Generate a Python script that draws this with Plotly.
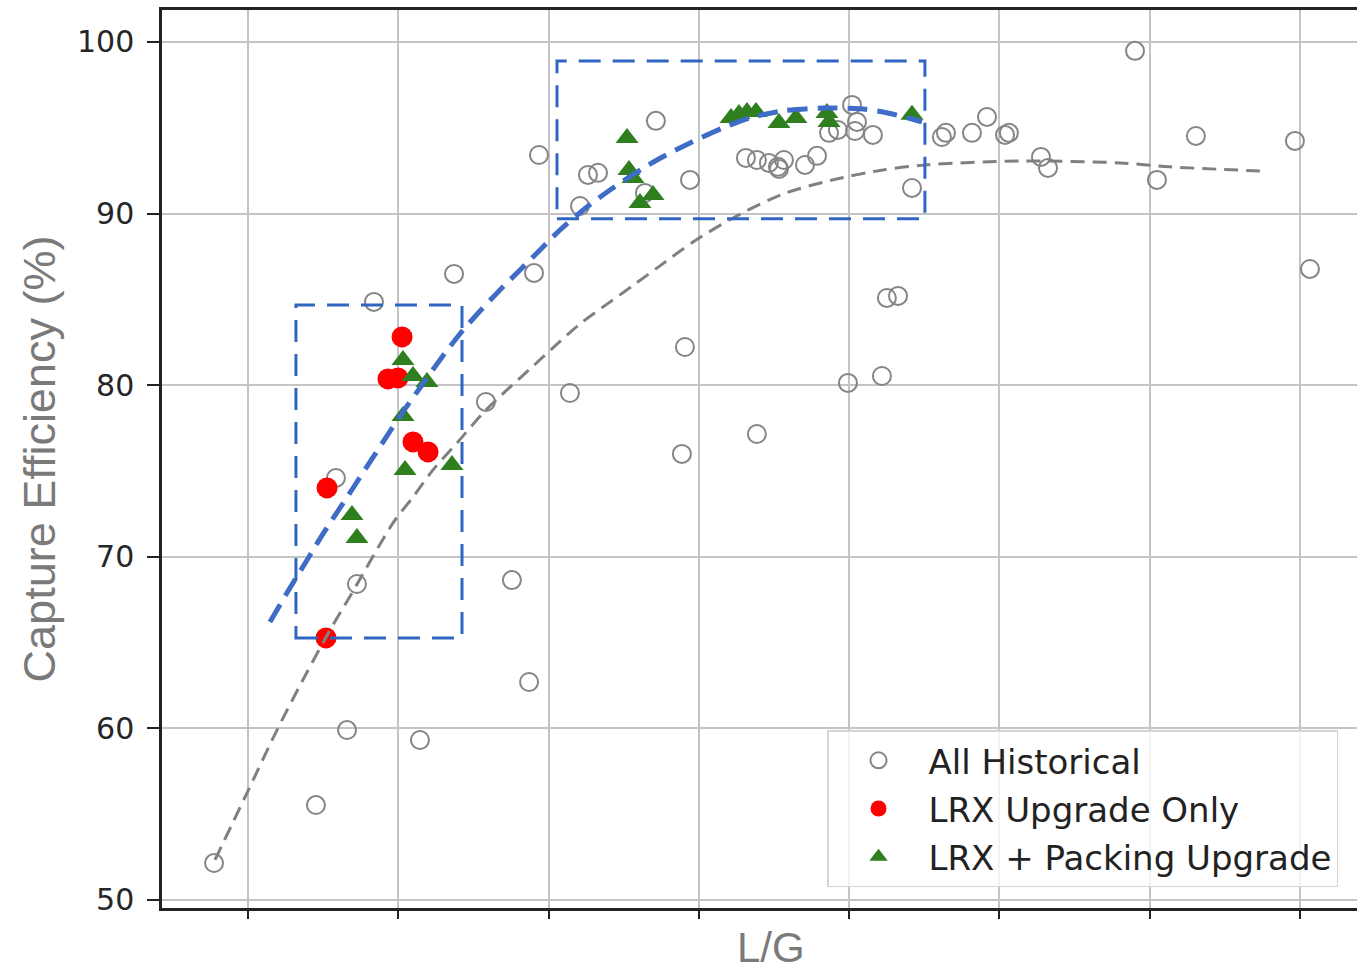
import plotly.graph_objects as go

# ---------------- data ----------------
hist_x = [0.774, 1.452, 1.659, 2.144, 1.725, 1.585, 1.838, 2.371, 2.903, 2.583,
          2.756, 2.870, 3.142, 2.936, 3.209, 3.262, 3.329, 3.714, 3.941, 3.907,
          3.887, 4.386, 4.313, 4.386, 4.466, 4.526, 4.566, 4.533, 4.706, 4.786,
          4.866, 4.925, 5.019, 5.052, 5.039, 5.158, 4.992, 5.218, 5.251, 5.325,
          5.418, 5.617, 5.644, 5.817, 5.917, 6.037, 6.063, 6.276, 6.323, 6.902,
          7.048, 7.307, 7.966, 8.066, 3.641]
hist_y = [52.15, 55.53, 59.90, 59.32, 68.41, 74.59, 84.85, 86.48, 86.54, 79.02,
          68.64, 62.70, 79.54, 93.41, 90.44, 92.25, 92.37, 95.40, 91.96, 82.22,
          75.99, 77.15, 93.24, 93.12, 92.95, 92.72, 93.12, 92.60, 92.83, 93.36,
          94.70, 94.87, 96.33, 95.34, 94.81, 94.58, 80.13, 80.53, 85.08, 85.20,
          91.49, 94.46, 94.70, 94.70, 95.63, 94.58, 94.70, 93.30, 92.66, 99.48,
          91.96, 94.52, 94.23, 86.77, 91.20]

lrx_x = [2.025, 1.931, 1.998, 2.098, 2.198, 1.526, 1.519]
lrx_y = [82.81, 80.36, 80.42, 76.69, 76.11, 74.01, 65.27]

pack_x = [2.031, 2.098, 2.191, 2.031, 2.045, 2.357, 1.692, 1.725,
          3.522, 3.535, 3.562, 3.608, 3.695, 4.214, 4.267, 4.320, 4.380,
          4.533, 4.646, 4.852, 4.866, 5.418]
pack_y = [81.47, 80.53, 80.18, 78.20, 75.06, 75.35, 72.43, 71.09,
          94.40, 92.54, 92.07, 90.62, 91.08, 95.57, 95.80, 95.92, 95.92,
          95.28, 95.57, 95.86, 95.34, 95.75]

fit_all_x = [0.780, 0.993, 1.193, 1.379, 1.546, 1.692, 1.965, 2.098, 2.231, 2.391,
             2.564, 2.723, 2.876, 3.029, 3.209, 3.389, 3.561, 3.741, 3.961, 4.227,
             4.560, 4.892, 5.225, 5.504, 6.136, 6.802, 7.134, 7.733]
fit_all_y = [52.33, 56.23, 59.90, 63.05, 65.73, 67.89, 71.97, 73.48, 75.06, 76.63,
             78.38, 79.72, 80.94, 82.17, 83.57, 84.72, 85.80, 86.95, 88.34, 89.74,
             91.14, 91.96, 92.54, 92.83, 93.06, 92.95, 92.72, 92.48]

fit_up_x = [1.146, 1.279, 1.393, 1.499, 1.612, 1.712, 1.825, 1.925, 2.031, 2.158,
            2.277, 2.410, 2.544, 2.677, 2.810, 2.943, 3.076, 3.255, 3.428, 3.721,
            3.941, 4.160, 4.340, 4.559, 4.826, 5.072, 5.225, 5.418, 5.484]
fit_up_y = [66.20, 68.18, 69.81, 71.33, 72.84, 74.18, 75.70, 77.04, 78.44, 80.01,
            81.47, 82.98, 84.32, 85.55, 86.71, 87.88, 89.04, 90.38, 91.49, 93.12,
            94.11, 94.99, 95.57, 95.98, 96.15, 96.10, 95.92, 95.51, 95.34]

# highlight boxes [x0, x1, y0, y1]
box_low = [1.319, 2.424, 65.27, 84.67]
box_high = [3.056, 5.504, 89.69, 98.89]

x_ticks = [1, 2, 3, 4, 5, 6, 7, 8]
y_ticks = [50, 60, 70, 80, 90, 100]
y_labels = ["50", "60", "70", "80", "90", "100"]

# ---------------- figure ----------------
fig = go.Figure()

fig.add_trace(go.Scatter(
    x=hist_x, y=hist_y, mode="markers", name="All Historical",
    legendgroup="a",
    marker=dict(symbol="circle-open", size=18, color="#858585",
                line=dict(width=2, color="#858585"))))

fig.add_trace(go.Scatter(
    x=lrx_x, y=lrx_y, mode="markers", name="LRX Upgrade Only",
    legendgroup="b",
    marker=dict(symbol="circle", size=21, color="#ff0000")))

fig.add_trace(go.Scatter(
    x=pack_x, y=pack_y, mode="markers", name="LRX + Packing Upgrade",
    legendgroup="c",
    marker=dict(symbol="triangle-up", size=20, color="#2f7f1f")))

fig.add_trace(go.Scatter(
    x=fit_all_x, y=fit_all_y, mode="lines", showlegend=False,
    line=dict(color="#808080", width=3, dash="14px,8px", shape="spline",
              smoothing=0.8)))

fig.add_trace(go.Scatter(
    x=fit_up_x, y=fit_up_y, mode="lines", showlegend=False,
    line=dict(color="#3e6cc6", width=5, dash="20px,10px", shape="spline",
              smoothing=0.8)))

for b in (box_low, box_high):
    fig.add_shape(type="rect", xref="x", yref="y",
                  x0=b[0], x1=b[1], y0=b[2], y1=b[3],
                  line=dict(color="#2f66c2", width=3, dash="22px,12px"),
                  layer="above")

fig.add_annotation(
    text="L/G", xref="paper", yref="paper", x=0.5096, y=-0.0713,
    xanchor="center", yanchor="bottom", showarrow=False, borderpad=0,
    font=dict(family="Liberation Sans, Arial", size=42, color="#7a7a7a"))

fig.update_layout(
    width=1357, height=974,
    margin=dict(l=162, r=0, t=10, b=66),
    paper_bgcolor="white", plot_bgcolor="white",
    showlegend=True,
    legend=dict(
        x=0.5565, y=0.198, xanchor="left", yanchor="top",
        bgcolor="rgba(255,255,255,0.8)", bordercolor="#d4d4d4", borderwidth=1.5,
        font=dict(family="DejaVu Sans", size=34, color="#222222"),
        traceorder="grouped", tracegroupgap=1, itemwidth=90),
    xaxis=dict(
        range=[0.4278, 8.379], tickvals=x_ticks, showticklabels=False,
        ticks="outside", ticklen=8, tickwidth=2, tickcolor="#222222",
        showgrid=True, gridcolor="#c4c4c4", gridwidth=2,
        showline=True, linecolor="#222222", linewidth=2.5, mirror=True,
        zeroline=False, automargin=False),
    yaxis=dict(
        range=[49.53, 101.86], tickvals=y_ticks, ticktext=y_labels,
        ticks="outside", ticklen=12, tickwidth=2, tickcolor="#222222",
        tickfont=dict(family="DejaVu Sans", size=30, color="#262626"),
        ticklabelstandoff=7,
        showgrid=True, gridcolor="#c4c4c4", gridwidth=2,
        showline=True, linecolor="#222222", linewidth=2.5, mirror=False,
        zeroline=False, automargin=False,
        title=dict(text="Capture Efficiency (%)", standoff=8,
                   font=dict(family="Liberation Sans, Arial", size=45, color="#7a7a7a"))),
)

fig.write_html("out.html")
